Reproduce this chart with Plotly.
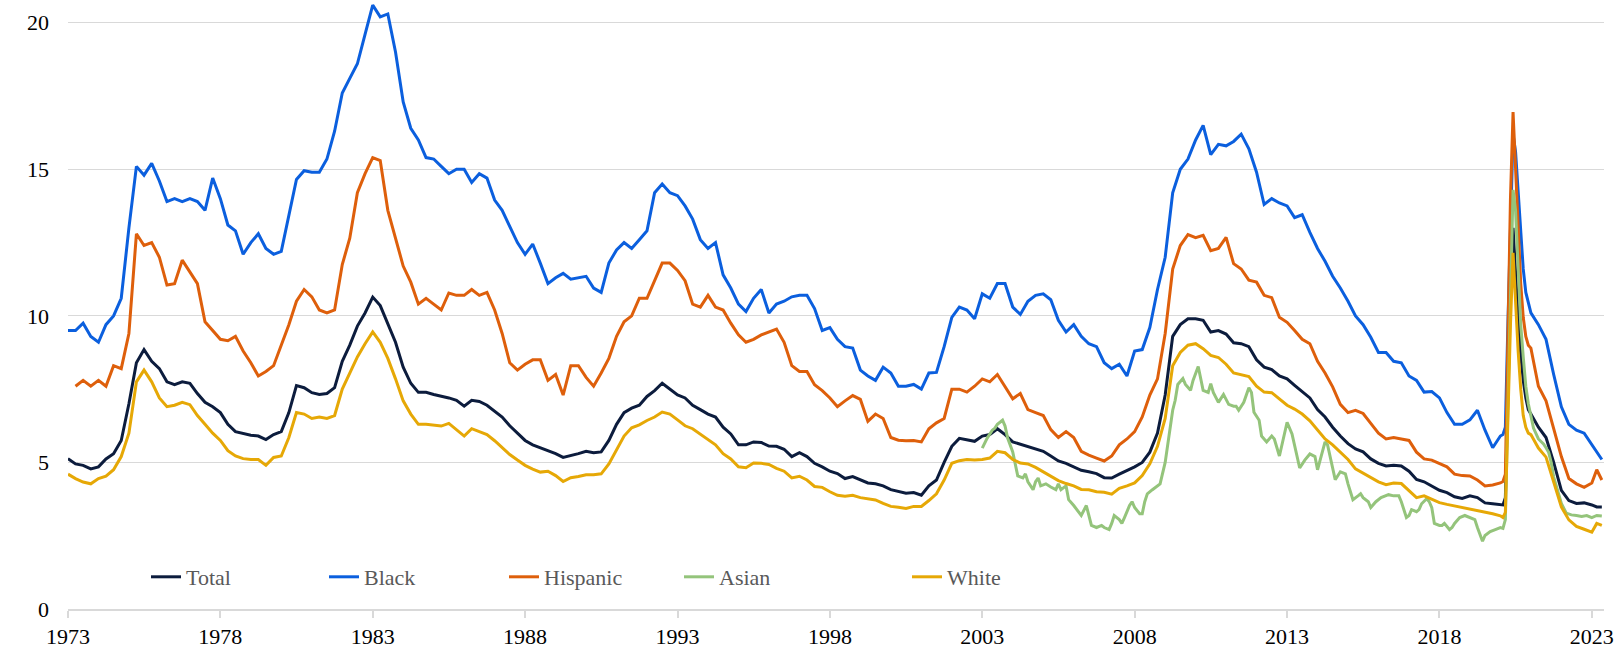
import pandas as pd
import plotly.graph_objects as go

# ---- dates: quarterly, monthly through 2020, quarterly after, last months of 2023
q1 = pd.date_range("1973-01-01", "2019-10-01", freq="QS-JAN")
m20 = pd.date_range("2020-01-01", "2020-12-01", freq="MS")
q2 = pd.date_range("2021-01-01", "2022-10-01", freq="QS-JAN")
tail = pd.to_datetime(["2023-01-01", "2023-03-01", "2023-05-01"])
dates = list(q1) + list(m20) + list(q2) + list(tail)

total = [
    5.13, 4.95, 4.9, 4.78, 4.85, 5.12, 5.3, 5.75, 7.0, 8.4, 8.85, 8.45,
    8.2, 7.75, 7.65, 7.75, 7.7, 7.35, 7.05, 6.9, 6.7, 6.3, 6.05, 5.98,
    5.93, 5.9, 5.78, 5.95, 6.05, 6.7, 7.62, 7.55, 7.38, 7.32, 7.35, 7.55,
    8.45, 9.0, 9.65, 10.1, 10.64, 10.35, 9.75, 9.1, 8.25, 7.7, 7.39, 7.39,
    7.32, 7.27, 7.2, 7.12, 6.92, 7.12, 7.08, 6.95, 6.75, 6.55, 6.25, 6.0,
    5.75, 5.6, 5.5, 5.4, 5.3, 5.17, 5.23, 5.3, 5.38, 5.33, 5.36, 5.75,
    6.3, 6.7, 6.85, 6.95, 7.25, 7.45, 7.7, 7.5, 7.3, 7.2, 6.95, 6.8,
    6.65, 6.55, 6.2, 5.97, 5.6, 5.6, 5.7, 5.68, 5.56, 5.55, 5.45, 5.2,
    5.33, 5.2, 4.97, 4.85, 4.7, 4.62, 4.45, 4.52, 4.41, 4.3, 4.27, 4.2,
    4.07, 4.0, 3.95, 3.97, 3.88, 4.2, 4.4, 5.0, 5.55, 5.82, 5.76, 5.72,
    5.9, 5.95, 6.15, 5.95, 5.7, 5.62, 5.56, 5.47, 5.38, 5.22, 5.05, 4.97,
    4.85, 4.73, 4.68, 4.62, 4.48, 4.47, 4.6, 4.72, 4.85, 5.0, 5.35, 6.0,
    7.3, 9.3, 9.7, 9.9, 9.9, 9.85, 9.45, 9.5, 9.38, 9.08, 9.05, 8.95,
    8.5, 8.25, 8.17, 7.95, 7.85, 7.63, 7.43, 7.2, 6.8, 6.55, 6.2, 5.9,
    5.64, 5.46, 5.36, 5.12, 4.97, 4.88, 4.9, 4.88, 4.7, 4.42, 4.34, 4.18,
    4.05, 3.97, 3.83, 3.77, 3.86, 3.8, 3.62, 3.59,
    3.57, 3.55, 3.8, 7.6, 10.8, 13.0, 11.3, 9.9, 8.7, 7.8, 7.2, 6.8,
    6.65, 6.2, 5.85, 5.0, 4.05, 3.7, 3.6, 3.62,
    3.55, 3.48, 3.48,
]

black = [
    9.5, 9.5, 9.75, 9.3, 9.1, 9.7, 10.0, 10.6, 13.0, 15.1, 14.8, 15.2,
    14.6, 13.9, 14.0, 13.9, 14.0, 13.9, 13.6, 14.7, 14.0, 13.1, 12.9, 12.1,
    12.5, 12.8, 12.3, 12.1, 12.2, 13.4, 14.65, 14.95, 14.9, 14.9, 15.35, 16.3,
    17.6, 18.1, 18.6, 19.6, 20.6, 20.2, 20.3, 19.0, 17.3, 16.4, 16.0, 15.4,
    15.35, 15.1, 14.85, 15.0, 15.0, 14.55, 14.85, 14.7, 13.95, 13.6, 13.05, 12.5,
    12.1, 12.45, 11.8, 11.1, 11.3, 11.45, 11.25, 11.3, 11.35, 10.95, 10.8, 11.8,
    12.25, 12.5, 12.3, 12.6, 12.9, 14.2, 14.5, 14.2, 14.1, 13.75, 13.3, 12.6,
    12.3, 12.5, 11.4, 10.95, 10.4, 10.15, 10.6, 10.9, 10.1, 10.4, 10.5, 10.65,
    10.7, 10.7, 10.25, 9.5, 9.6, 9.2, 8.95, 8.9, 8.15, 7.95, 7.8, 8.25,
    8.05, 7.6, 7.6, 7.66, 7.5, 8.05, 8.07, 8.95, 9.95, 10.3, 10.2, 9.9,
    10.75, 10.6, 11.1, 11.1, 10.3, 10.05, 10.5, 10.7, 10.75, 10.55, 9.85, 9.45,
    9.7, 9.3, 9.05, 8.95, 8.4, 8.2, 8.35, 7.95, 8.8, 8.85, 9.6, 10.9,
    12.0, 14.2, 15.0, 15.35, 16.0, 16.5, 15.5, 15.85, 15.8, 15.95, 16.2, 15.7,
    14.9, 13.8, 14.0, 13.85, 13.75, 13.35, 13.45, 12.85, 12.3, 11.86, 11.35, 10.95,
    10.5, 10.0, 9.7, 9.27, 8.75, 8.75, 8.45, 8.4, 7.95, 7.8, 7.4, 7.42,
    7.2, 6.7, 6.3, 6.3, 6.45, 6.78, 6.1, 5.5,
    5.9, 5.95, 6.2, 9.8, 13.3, 16.2, 15.6, 14.2, 12.8, 11.6, 10.8, 10.4,
    10.1, 9.7, 9.2, 8.0, 6.9, 6.3, 6.1, 6.0,
    5.6, 5.35, 5.1,
]

hispanic = [
    None, 7.6, 7.8, 7.6, 7.8, 7.6, 8.3, 8.2, 9.4, 12.8, 12.4, 12.5,
    12.0, 11.05, 11.1, 11.9, 11.5, 11.1, 9.8, 9.5, 9.2, 9.15, 9.3, 8.8,
    8.4, 7.95, 8.1, 8.3, 9.0, 9.7, 10.5, 10.9, 10.65, 10.2, 10.1, 10.2,
    11.75, 12.65, 14.2, 14.85, 15.4, 15.3, 13.6, 12.65, 11.7, 11.15, 10.4, 10.6,
    10.4, 10.2, 10.78, 10.7, 10.7, 10.9, 10.7, 10.8, 10.2, 9.4, 8.4, 8.15,
    8.35, 8.5, 8.5, 7.8, 8.0, 7.3, 8.3, 8.3, 7.9, 7.6, 8.05, 8.55,
    9.3, 9.8, 10.0, 10.6, 10.6, 11.2, 11.8, 11.8, 11.55, 11.2, 10.4, 10.3,
    10.7, 10.3, 10.2, 9.75, 9.35, 9.1, 9.2, 9.35, 9.45, 9.55, 9.1, 8.3,
    8.1, 8.1, 7.65, 7.45, 7.2, 6.9, 7.1, 7.28, 7.15, 6.4, 6.65, 6.5,
    5.85, 5.76, 5.74, 5.75, 5.7, 6.15, 6.35, 6.5, 7.5, 7.5, 7.4, 7.6,
    7.85, 7.75, 8.0, 7.6, 7.17, 7.35, 6.8, 6.7, 6.6, 6.12, 5.85, 6.05,
    5.85, 5.38, 5.25, 5.15, 5.05, 5.22, 5.6, 5.8, 6.05, 6.55, 7.3, 7.85,
    9.4, 11.6, 12.4, 12.77, 12.67, 12.75, 12.22, 12.3, 12.68, 11.78, 11.6, 11.22,
    11.15, 10.7, 10.62, 9.95, 9.78, 9.5, 9.2, 9.05, 8.45, 8.05, 7.58, 6.98,
    6.7, 6.78, 6.67, 6.33, 6.0, 5.8, 5.85, 5.8, 5.75, 5.35, 5.12, 5.08,
    4.97, 4.85, 4.6, 4.55, 4.54, 4.4, 4.2, 4.23,
    4.3, 4.35, 4.6, 9.5, 14.0, 16.95, 15.0, 12.8, 11.1, 9.95, 9.3, 9.0,
    8.9, 7.6, 7.1, 6.15, 5.2, 4.45, 4.27, 4.15,
    4.3, 4.75, 4.4,
]

white = [
    4.6, 4.45, 4.33, 4.27, 4.45, 4.53, 4.75, 5.2, 6.0, 7.75, 8.15, 7.75,
    7.2, 6.9, 6.95, 7.05, 6.97, 6.6, 6.3, 6.0, 5.75, 5.4, 5.22, 5.13,
    5.1, 5.1, 4.9, 5.17, 5.22, 5.85, 6.7, 6.65, 6.5, 6.55, 6.5, 6.6,
    7.5, 8.07, 8.6, 9.05, 9.45, 9.1, 8.55, 7.85, 7.1, 6.65, 6.3, 6.3,
    6.27, 6.24, 6.33, 6.1, 5.9, 6.15, 6.05, 5.95, 5.74, 5.52, 5.27, 5.08,
    4.9, 4.77, 4.67, 4.7, 4.55, 4.35, 4.48, 4.52, 4.58, 4.58, 4.61, 4.95,
    5.45, 5.9, 6.18, 6.28, 6.43, 6.55, 6.72, 6.65, 6.45, 6.25, 6.15, 5.97,
    5.78, 5.6, 5.3, 5.12, 4.85, 4.82, 4.98, 4.97, 4.93, 4.8, 4.7, 4.47,
    4.53, 4.4, 4.18, 4.15, 4.0, 3.88, 3.85, 3.88, 3.8, 3.76, 3.72, 3.6,
    3.5, 3.47, 3.43, 3.5, 3.5, 3.7, 3.93, 4.4, 4.97, 5.06, 5.1, 5.08,
    5.1, 5.15, 5.38, 5.33, 5.1, 4.98, 4.95, 4.83, 4.68, 4.55, 4.38, 4.28,
    4.2, 4.08, 4.07, 4.0, 3.98, 3.92, 4.12, 4.2, 4.3, 4.55, 4.95, 5.55,
    6.5, 8.3, 8.75, 9.0, 9.05, 8.88, 8.65, 8.58, 8.35, 8.05, 8.0, 7.93,
    7.6, 7.4, 7.38, 7.15, 6.95, 6.82, 6.65, 6.42, 6.1, 5.8, 5.6, 5.35,
    5.1, 4.78, 4.63, 4.5, 4.34, 4.24, 4.3, 4.28, 4.05, 3.8, 3.86, 3.75,
    3.63, 3.57, 3.52, 3.45, 3.42, 3.35, 3.31, 3.25,
    3.18, 3.12, 3.3, 6.9, 9.7, 12.15, 10.4, 8.8, 7.5, 6.6, 6.2, 6.0,
    5.95, 5.49, 5.18, 4.3, 3.48, 3.04, 2.82, 2.72,
    2.62, 2.92, 2.85,
]

asian_dates = [
    "2003-01", "2003-03", "2003-05", "2003-06", "2003-07", "2003-09", "2003-10", "2003-11",
    "2004-01", "2004-02", "2004-03", "2004-05", "2004-06", "2004-07", "2004-09", "2004-10",
    "2004-11", "2004-12", "2005-02", "2005-04", "2005-06", "2005-07", "2005-08", "2005-10",
    "2005-11", "2006-01", "2006-03", "2006-04", "2006-06", "2006-07", "2006-08", "2006-10",
    "2006-12", "2007-01", "2007-03", "2007-04", "2007-05", "2007-07", "2007-08", "2007-09",
    "2007-11", "2007-12", "2008-01", "2008-03", "2008-04", "2008-05", "2008-06", "2008-08",
    "2008-10", "2008-11", "2009-01", "2009-03", "2009-04", "2009-05", "2009-06", "2009-08",
    "2009-09", "2009-11", "2009-12", "2010-02", "2010-03", "2010-04", "2010-06", "2010-07",
    "2010-08", "2010-10", "2010-12", "2011-02", "2011-04", "2011-05", "2011-06", "2011-08",
    "2011-10", "2011-11", "2011-12", "2012-02", "2012-03", "2012-05", "2012-07", "2012-08",
    "2012-10", "2012-11", "2013-01", "2013-03", "2013-05", "2013-06", "2013-08", "2013-10",
    "2013-12", "2014-01", "2014-02", "2014-04", "2014-05", "2014-07", "2014-08", "2014-10",
    "2014-12", "2015-01", "2015-03", "2015-05", "2015-06", "2015-07", "2015-09", "2015-10",
    "2015-12", "2016-02", "2016-04", "2016-05", "2016-07", "2016-09", "2016-10", "2016-12",
    "2017-01", "2017-02", "2017-04", "2017-05", "2017-06", "2017-08", "2017-09", "2017-10",
    "2017-11", "2018-01", "2018-02", "2018-03", "2018-05", "2018-06", "2018-07", "2018-09",
    "2018-11", "2019-01", "2019-03", "2019-04", "2019-06", "2019-07", "2019-09", "2019-11",
    "2020-01", "2020-02", "2020-03", "2020-04", "2020-05", "2020-06", "2020-07", "2020-08",
    "2020-09", "2020-10", "2020-11", "2020-12", "2021-01", "2021-02", "2021-04", "2021-06",
    "2021-07", "2021-08", "2021-09", "2021-10", "2021-11", "2021-12", "2022-01", "2022-03",
    "2022-05", "2022-07", "2022-09", "2022-11", "2023-01", "2023-03", "2023-05",
]
asian = [
    5.49, 5.83, 6.1, 6.17, 6.3, 6.44, 6.24, 5.83,
    5.36, 4.88, 4.54, 4.47, 4.61, 4.34, 4.07, 4.34,
    4.47, 4.2, 4.27, 4.16, 4.07, 4.27, 4.07, 4.2,
    3.73, 3.53, 3.32, 3.19, 3.53, 3.19, 2.85, 2.78,
    2.85, 2.78, 2.71, 2.92, 3.19, 3.05, 2.92, 3.12,
    3.53, 3.66, 3.46, 3.25, 3.25, 3.66, 3.93, 4.07,
    4.2, 4.27, 5.0, 6.2, 6.78, 7.12, 7.66, 7.86,
    7.66, 7.46, 7.8, 8.27, 7.93, 7.46, 7.39, 7.69,
    7.39, 7.05, 7.32, 6.98, 6.92, 6.92, 6.78, 7.05,
    7.55, 7.39, 6.71, 6.44, 5.9, 5.7, 5.9, 5.8,
    5.22, 5.63, 6.37, 5.97, 5.15, 4.81, 5.08, 5.29,
    5.2, 4.75, 5.08, 5.7, 5.6, 4.81, 4.41, 4.68,
    4.61, 4.27, 3.73, 3.86, 3.93, 3.8, 3.66, 3.46,
    3.66, 3.8, 3.87, 3.9, 3.86, 3.86, 3.66, 3.12,
    3.19, 3.39, 3.32, 3.39, 3.59, 3.76, 3.66, 3.46,
    2.92, 2.85, 2.85, 2.92, 2.71, 2.78, 2.92, 3.12,
    3.19, 3.12, 3.05, 2.78, 2.31, 2.51, 2.64, 2.71,
    2.78, 2.75, 3.05, 7.0, 10.8, 14.3, 13.6, 11.5,
    9.7, 8.6, 7.6, 7.0, 6.6, 6.17, 5.8, 5.63,
    5.5, 5.35, 5.0, 4.5, 4.2, 3.9, 3.6, 3.27,
    3.21, 3.19, 3.16, 3.19, 3.12, 3.19, 3.17,
]

series_names = ["Total", "Black", "Hispanic", "Asian", "White"]
series_colors = ["#0c1c3d", "#0b5fde", "#de5f0b", "#94c47b", "#e6a806"]
legend_text_x = [186, 364, 544, 719, 947]

SERIF = "Liberation Serif, Times New Roman, serif"

W, H = 1618, 648
ML, MR, MT, MB = 68, 14, 0, 39
PW, PH = W - ML - MR, H - MT - MB

fig = go.Figure()
data = {
    "Total": (dates, total),
    "Black": (dates, black),
    "Hispanic": (dates, hispanic),
    "Asian": (pd.to_datetime(asian_dates), asian),
    "White": (dates, white),
}
legend_ids = ["legend", "legend2", "legend3", "legend4", "legend5"]
for name, color, lid in zip(series_names, series_colors, legend_ids):
    x, y = data[name]
    fig.add_trace(go.Scatter(
        x=x, y=y, name=name, mode="lines",
        line=dict(color=color, width=3),
        legend=lid, connectgaps=False,
    ))

layout_legends = {}
for lid, tx in zip(legend_ids, legend_text_x):
    layout_legends[lid] = dict(
        x=(tx - 40 - ML) / PW, xref="paper", xanchor="left",
        y=(H - MB - 577) / PH, yref="paper", yanchor="middle",
        orientation="h", bgcolor="rgba(0,0,0,0)", borderwidth=0,
        font=dict(family=SERIF, size=22, color="#595959"),
        itemwidth=30,
    )

fig.update_layout(
    width=W, height=H, autosize=False,
    paper_bgcolor="white", plot_bgcolor="white",
    margin=dict(l=ML, r=MR, t=MT, b=MB, autoexpand=False),
    showlegend=True,
    **layout_legends,
)
fig.update_xaxes(
    type="date",
    range=["1973-01-01", "2023-05-27"],
    tick0="1973-01-01", dtick="M60", tickformat="%Y",
    ticks="outside", ticklen=7, tickcolor="#d9d9d9", tickwidth=1.5,
    showline=True, linecolor="#d9d9d9", linewidth=1.5,
    showgrid=False, zeroline=False,
    tickfont=dict(family=SERIF, size=22, color="#000000"),
)
fig.update_yaxes(
    range=[0, 20.775],
    tickvals=[0, 5, 10, 15, 20],
    showgrid=True, gridcolor="#d9d9d9", gridwidth=1.3,
    zeroline=False, showline=False, ticks="",
    ticklabelstandoff=18,
    tickfont=dict(family=SERIF, size=22, color="#000000"),
)

fig.write_html(
    "out.html",
    config={"displayModeBar": False},
    post_script="document.body.style.margin='0px';",
)
